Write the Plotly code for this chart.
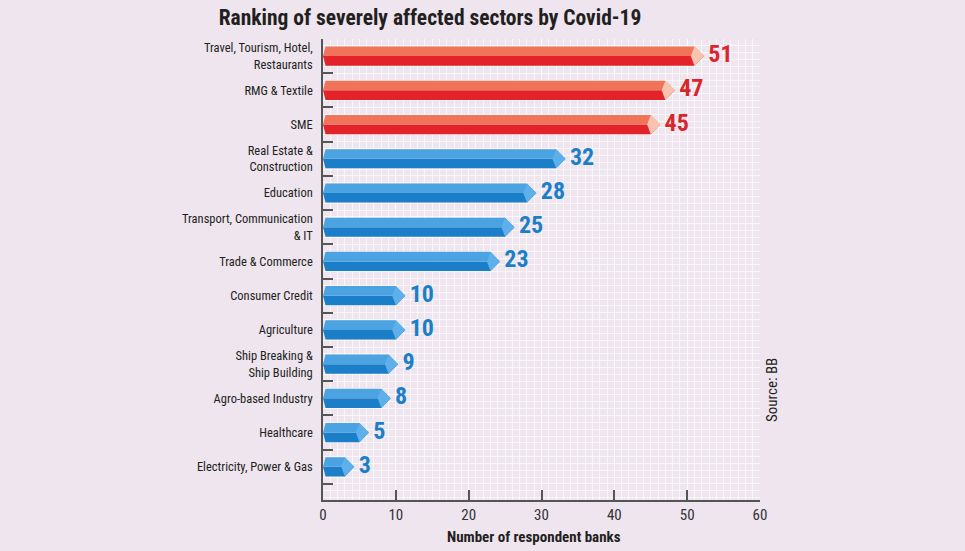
import plotly.graph_objects as go

# ---- data ----
sectors = [
    "Travel, Tourism, Hotel,<br>Restaurants",
    "RMG & Textile",
    "SME",
    "Real Estate &<br>Construction",
    "Education",
    "Transport, Communication<br>& IT",
    "Trade & Commerce",
    "Consumer Credit",
    "Agriculture",
    "Ship Breaking &<br>Ship Building",
    "Agro-based Industry",
    "Healthcare",
    "Electricity, Power & Gas",
]
banks = [51, 47, 45, 32, 28, 25, 23, 10, 10, 9, 8, 5, 3]
highlight = [True, True, True, False, False, False, False, False, False, False, False, False, False]
x_ticks = [0, 10, 20, 30, 40, 50, 60]

# ---- style ----
BG = "#eee5ef"
GRID = "rgba(255,255,255,0.65)"
RED_TOP, RED_BOT, RED_TIP, RED_TXT = "#f0735a", "#e4222a", "#f8c4b0", "#d8262c"
BLU_TOP, BLU_BOT, BLU_TIP, BLU_TXT = "#4ca3e2", "#1a7ec8", "#5db0ea", "#1c7fc6"
NARROW = "Liberation Sans Narrow, Arial Narrow, Roboto Condensed, sans-serif"

HALF = 0.28      # half bar thickness (category units)
TIP = 1.3        # arrow tip length (x units)
LEFT = 0.35      # left notch depth

pos = list(range(len(sectors)))

def polys(sel, part):
    xs, ys = [], []
    for i, (v, h) in enumerate(zip(banks, highlight)):
        if h != sel:
            continue
        c = pos[i]
        if part == "top":
            px = [0, LEFT, v, v + TIP, 0]
            py = [c, c - HALF, c - HALF, c, c]
        elif part == "bot":
            px = [0, v + TIP, v, LEFT, 0]
            py = [c, c, c + HALF, c + HALF, c]
        else:  # tip facet
            px = [v, v + TIP, v, v - 0.5, v]
            py = [c - HALF, c, c + HALF, c, c - HALF]
        xs += px + [None]
        ys += py + [None]
    return xs, ys

fig = go.Figure()
for sel, cols in [(True, (RED_TOP, RED_BOT, RED_TIP)), (False, (BLU_TOP, BLU_BOT, BLU_TIP))]:
    for part, col in zip(["bot", "top", "tip"], [cols[1], cols[0], cols[2]]):
        xs, ys = polys(sel, part)
        fig.add_trace(go.Scatter(x=xs, y=ys, fill="toself", fillcolor=col, mode="lines",
                                 line=dict(width=0, color=col), hoverinfo="skip", showlegend=False))

# value labels
fig.add_trace(go.Scatter(
    x=[v + TIP + 0.6 for v in banks], y=pos, mode="text",
    text=["<b>%d</b>" % v for v in banks], textposition="middle right",
    textfont=dict(family=NARROW, size=24, color=[RED_TXT if h else BLU_TXT for h in highlight]),
    cliponaxis=False, showlegend=False, hoverinfo="skip"))

# dummy trace on y2 for the boundary ticks
fig.add_trace(go.Scatter(x=[None], y=[None], yaxis="y2", showlegend=False, hoverinfo="skip"))

yr = [12.97, -0.5]
fig.update_layout(
    width=965, height=551,
    paper_bgcolor=BG, plot_bgcolor=BG,
    margin=dict(l=323, r=205, t=39, b=51),
    title=dict(text="<b>Ranking of severely affected sectors by Covid-19</b>",
               x=430 / 965, xanchor="center", y=1 - 17 / 551, yanchor="middle",
               font=dict(family=NARROW, size=21.5, color="#231f20")),
    xaxis=dict(range=[0, 60], tickvals=x_ticks, ticks="inside", ticklen=10, tickwidth=1.5,
               tickcolor="#555", showline=True, linecolor="#555", linewidth=1.5,
               showgrid=True, gridcolor=GRID, gridwidth=1,
               minor=dict(dtick=1, showgrid=True, gridcolor=GRID, gridwidth=1),
               tickfont=dict(family=NARROW, size=15, color="#333"), zeroline=False,
               fixedrange=True),
    yaxis=dict(range=yr, tickvals=pos, ticktext=sectors, ticks="", showline=True,
               linecolor="#555", linewidth=1.5, showgrid=False, zeroline=False,
               minor=dict(tick0=-0.5, dtick=0.2, showgrid=True, gridcolor=GRID, gridwidth=1),
               tickfont=dict(family=NARROW, size=12.5, color="#231f20"), ticklabelstandoff=6),
    yaxis2=dict(range=yr, overlaying="y", side="left", tickvals=[p - 0.5 for p in pos] + [12.5],
                ticks="inside", ticklen=10, tickwidth=1.5, tickcolor="#555",
                showticklabels=False, showgrid=False, zeroline=False, showline=False),
    annotations=[
        dict(text="<b>Number of respondent banks</b>", xref="paper", yref="paper",
             x=(534 - 323) / 437, y=-37 / 461, xanchor="center", yanchor="middle",
             showarrow=False, font=dict(family=NARROW, size=15, color="#231f20")),
        dict(text="Source: BB", xref="paper", yref="paper", x=(772 - 323) / 437,
             y=(500 - 390) / 461, xanchor="center", yanchor="middle", textangle=-90,
             showarrow=False, font=dict(family=NARROW, size=15, color="#231f20")),
    ],
)

fig.write_html("out.html", config={"displayModeBar": False},
               post_script="document.body.style.margin='0';document.body.style.background='%s';" % BG)
